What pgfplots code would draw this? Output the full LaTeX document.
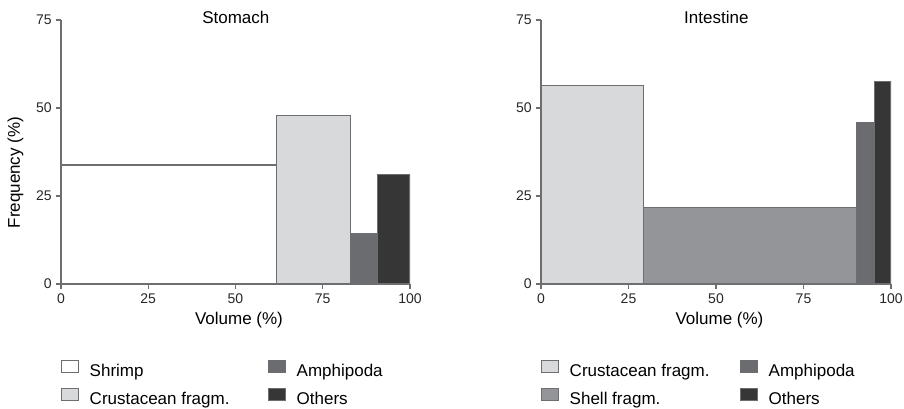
\documentclass[border=0pt]{standalone}
\usepackage{pgfplots}
\pgfplotsset{compat=1.18}
\usepackage{fontspec}
\setmainfont{Liberation Sans}

\definecolor{lightbar}{HTML}{D8D9DB}
\definecolor{shellbar}{HTML}{939598}
\definecolor{amphbar}{HTML}{6B6C6F}
\definecolor{otherbar}{HTML}{363636}
\definecolor{edge}{HTML}{6D6E71}

\pgfplotsset{
  panel/.style={
    scale only axis,
    height=198pt,
    xmin=0, xmax=100, ymin=0, ymax=75,
    xtick={0,25,50,75,100},
    ytick={0,25,50,75},
    axis lines=left,
    axis line style={-, draw=edge, line width=0.8pt},
    tick style={draw=edge, line width=0.8pt},
    tick align=outside,
    major tick length=3.5pt,
    /pgf/number format/assume math mode=true,
    tick label style={font=\fontsize{10.5}{12}\selectfont, text=black!85},
    label style={font=\fontsize{12.75}{14}\selectfont},
    every axis title shift=0pt,
    title style={font=\fontsize{12.75}{14}\selectfont, at={(axis description cs:0.501,1.009)}, anchor=center, yshift=0pt},
    xlabel style={at={(axis description cs:0.51,-0.136)}, anchor=center},
    legend columns=2,
    legend cell align=left,
    legend image code/.code={\draw[#1, draw=edge, line width=0.6pt] (0pt,0pt) rectangle (12.75pt,9pt);},
    legend style={draw=none, fill=none, inner sep=0pt,
      font=\fontsize{12.75}{14}\selectfont,
      nodes={inner xsep=0pt, inner ysep=0pt, text height=9.5pt, text depth=3pt},
      row sep=5.5pt,
      at={(axis description cs:0,-0.2853)}, anchor=north west},
  },
  blk/.style={ybar interval, draw=edge, line width=0.8pt, fill=#1, forget plot},
}

\begin{document}
\begin{tikzpicture}
\useasboundingbox (-45.75pt,-93pt) rectangle (632.25pt,213pt);

% Stomach
\begin{axis}[panel, width=261.75pt, at={(0pt,0pt)}, anchor=south west,
  title={Stomach},
  xlabel={Volume (\%)},
  ylabel={Frequency (\%)},
  ylabel style={at={(axis description cs:-0.1304,0.422)}, anchor=center, rotate=0},
  legend style={/tikz/column 1/.style={column sep=8pt},
                /tikz/column 2/.style={column sep=29pt},
                /tikz/column 3/.style={column sep=8pt}},
]
  \addplot[blk=white]    coordinates {(0,33.8) (61.8,33.8)};
  \addplot[blk=lightbar] coordinates {(61.8,48.0) (82.9,48.0)};
  \addplot[blk=amphbar]  coordinates {(82.9,14.2) (90.8,14.2)};
  \addplot[blk=otherbar] coordinates {(90.8,31.2) (100,31.2)};
  \addlegendimage{fill=white}\addlegendentry{Shrimp}
  \addlegendimage{fill=amphbar}\addlegendentry{Amphipoda}
  \addlegendimage{fill=lightbar}\addlegendentry{Crustacean fragm.}
  \addlegendimage{fill=otherbar}\addlegendentry{Others}
\end{axis}

% Intestine
\begin{axis}[panel, width=262.5pt, at={(360pt,0pt)}, anchor=south west,
  title={Intestine},
  xlabel={Volume (\%)},
  legend style={/tikz/column 1/.style={column sep=8pt},
                /tikz/column 2/.style={column sep=23pt},
                /tikz/column 3/.style={column sep=8pt}},
]
  \addplot[blk=lightbar] coordinates {(0,56.3) (29.2,56.3)};
  \addplot[blk=shellbar] coordinates {(29.2,21.8) (90.1,21.8)};
  \addplot[blk=amphbar]  coordinates {(90.1,45.9) (95.2,45.9)};
  \addplot[blk=otherbar] coordinates {(95.2,57.4) (100,57.4)};
  \addlegendimage{fill=lightbar}\addlegendentry{Crustacean fragm.}
  \addlegendimage{fill=amphbar}\addlegendentry{Amphipoda}
  \addlegendimage{fill=shellbar}\addlegendentry{Shell fragm.}
  \addlegendimage{fill=otherbar}\addlegendentry{Others}
\end{axis}
\end{tikzpicture}
\end{document}
